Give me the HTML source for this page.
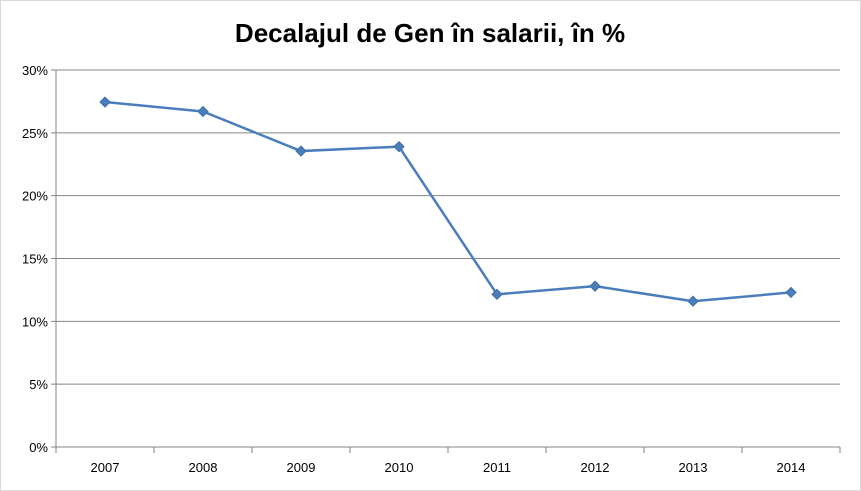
<!DOCTYPE html>
<html><head><meta charset="utf-8"><style>
body{margin:0;background:#fff;}
svg{display:block;font-family:"Liberation Sans",Calibri,sans-serif;}
</style></head><body>
<svg id="c" width="861" height="491">
<rect x="0.5" y="0.5" width="860" height="490" fill="#fff" stroke="#d9d9d9"/>
<text x="430" y="42" text-anchor="middle" font-size="26" font-weight="bold" fill="#000">Decalajul de Gen în salarii, în %</text>
<g id="grid"></g><g id="axes"></g><g id="series"></g>
</svg>
<script>
const categories=["2007","2008","2009","2010","2011","2012","2013","2014"];
const values=[27.45,26.7,23.55,23.9,12.15,12.8,11.6,12.3];
const yTicks=[0,5,10,15,20,25,30];
const yTickLabels=["0%","5%","10%","15%","20%","25%","30%"];
const L=56,R=840,T=70,B=447,ymax=30;
const ns="http://www.w3.org/2000/svg";
const bw=(R-L)/categories.length;
const x=i=>L+bw*(i+0.5);
const y=v=>B-(v/ymax)*(B-T);
function mk(t,a,p){const e=document.createElementNS(ns,t);for(const k in a)e.setAttribute(k,a[k]);p.appendChild(e);return e;}
const g=document.getElementById('grid'),ax=document.getElementById('axes'),s=document.getElementById('series');
yTicks.forEach((v,i)=>{
const l=mk('line',{x1:L-5,x2:R,y1:y(v),y2:y(v),stroke:v===0?'#868686':'#868686','stroke-width':1},g);


const t=mk('text',{x:L-8,y:y(v)+5,'text-anchor':'end','font-size':13,fill:'#000'},ax);
t.textContent=yTickLabels[i];


});
const va=mk('line',{x1:L,x2:L,y1:T,y2:B,stroke:'#868686'},ax);


for(let i=0;i<=categories.length;i++){
const tk=mk('line',{x1:L+bw*i,x2:L+bw*i,y1:B,y2:B+6,stroke:'#868686'},ax);


}
categories.forEach((c,i)=>{
const t=mk('text',{x:x(i),y:B+25,'text-anchor':'middle','font-size':13,fill:'#000'},ax);
t.textContent=c;


});
const pl=mk('polyline',{points:values.map((v,i)=>x(i)+','+y(v)).join(' '),fill:'none',stroke:'#4a7ebb','stroke-width':2.5},s);


values.forEach((v,i)=>{
const cx=x(i),cy=y(v),r=5;
const m=mk('polygon',{points:`${cx},${cy-r} ${cx+r},${cy} ${cx},${cy+r} ${cx-r},${cy}`,fill:'#4a7ebb',stroke:'#3f6fa8'},s);


});
</script>
</body></html>
